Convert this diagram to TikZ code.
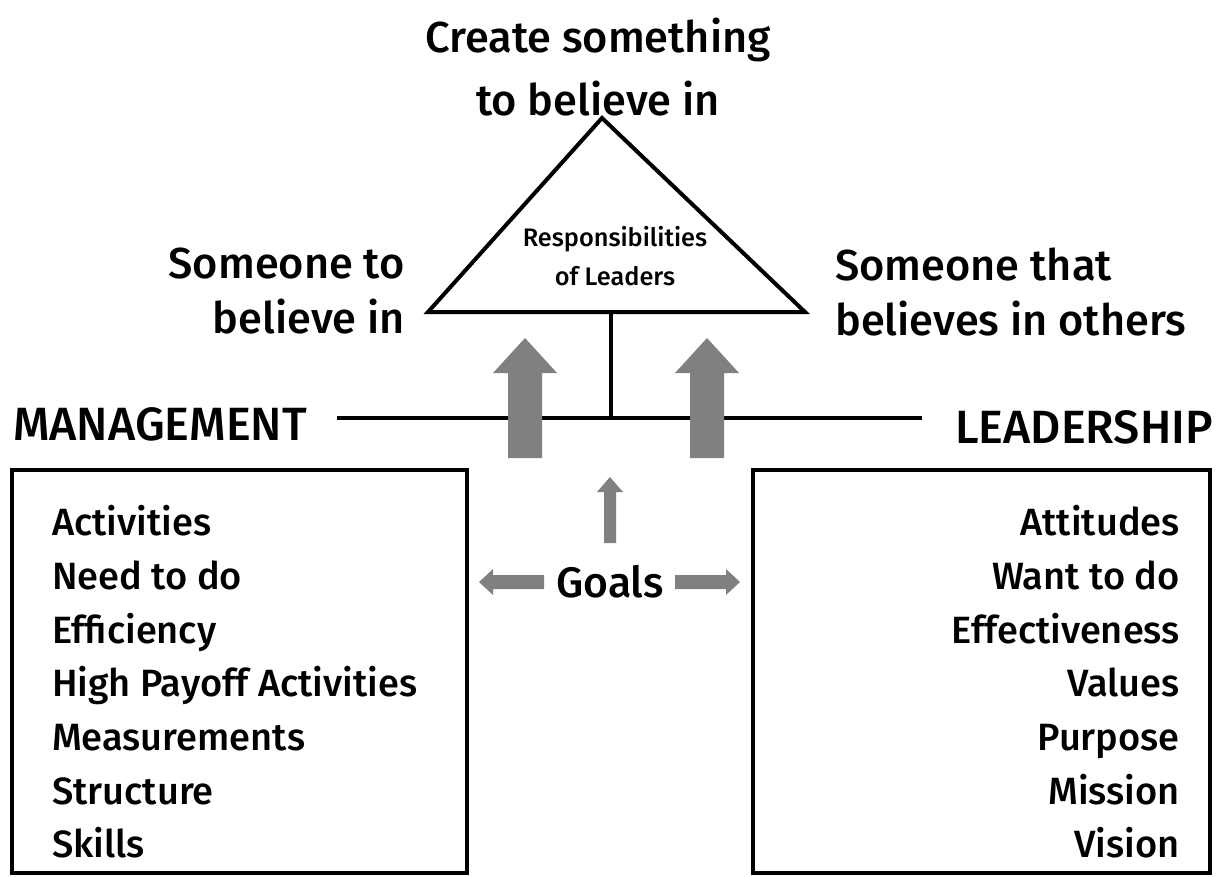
\documentclass[tikz,border=0pt]{standalone}
\usepackage{fontspec}
\setmainfont{Fira Sans}[UprightFont=* Medium, BoldFont=* SemiBold]
\definecolor{arrowgray}{RGB}{128,128,128}
\begin{document}
\begin{tikzpicture}[x=0.75pt,y=-0.75pt,
  toplabel/.style={inner sep=0pt, font=\fontsize{32.5}{47}\selectfont},
  sidelabel/.style={inner sep=0pt, font=\fontsize{32.5}{41}\selectfont},
  headlabel/.style={inner sep=0pt, font=\fontsize{35}{40}\selectfont},
  listtext/.style={inner sep=0pt, font=\fontsize{28.5}{40.3}\selectfont},
  smalllabel/.style={inner sep=0pt, font=\fontsize{19}{29}\selectfont, align=center},
  goalslabel/.style={inner sep=0pt, font=\fontsize{32}{38}\selectfont},
  thick line/.style={line width=3pt, line join=miter},
  blockarrow/.style={fill=arrowgray}
]
\useasboundingbox (0,0) rectangle (1225,876);

% triangle
\coordinate (apex) at (602,118);
\coordinate (bl) at (428,312);
\coordinate (br) at (805,312);
\coordinate (bm) at (611,312);
\draw[thick line] (apex) -- (br) -- (bl) -- cycle;
\node[smalllabel, anchor=north] (resp) at (615,226) {Responsibilities\\of Leaders};

% labels
\node[toplabel, align=center, anchor=north] (create) at (598,18) {Create something\\to believe in};
\node[sidelabel, align=right, anchor=north east] (someone) at (405,248) {Someone to\\believe in};
\node[sidelabel, align=left, anchor=north west] (someothers) at (835,248) {Someone that\\believes in others};

% management / leadership
\node[headlabel, anchor=base west] (mgmt) at (13,440) {MANAGEMENT};
\node[headlabel, anchor=base east] (lead) at (1213,443) {LEADERSHIP};
\coordinate (hl) at (337,418);
\coordinate (hr) at (922,418);
\coordinate (hm) at (611,418);
\draw[thick line] (hl) -- (hr);
\draw[thick line] (bm) -- (hm);

% big block arrows
\fill[blockarrow] (525,338) -- (557,373) -- (542,373) -- (542,458) -- (508,458) -- (508,373) -- (493,373) -- cycle;
\fill[blockarrow] (707,338) -- (739,373) -- (724,373) -- (724,458) -- (690,458) -- (690,373) -- (675,373) -- cycle;

% boxes
\coordinate (lb1) at (12,470);
\coordinate (lb2) at (467,873);
\coordinate (rb1) at (753,470);
\coordinate (rb2) at (1210,873);
\draw[thick line] (lb1) rectangle (lb2);
\draw[thick line] (rb1) rectangle (rb2);

\node[listtext, align=left, anchor=north west] (mlist) at (52,505) {Activities\\Need to do\\Efficiency\\High Payoff Activities\\Measurements\\Structure\\Skills};
\node[listtext, align=right, anchor=north east] (llist) at (1180,505) {Attitudes\\Want to do\\Effectiveness\\Values\\Purpose\\Mission\\Vision};

% goals
\node[goalslabel] (goals) at (610,582) {Goals};
\fill[blockarrow] (610,477) -- (623,492) -- (616,492) -- (616,543) -- (604,543) -- (604,492) -- (597,492) -- cycle;
\fill[blockarrow] (479,582) -- (493,569) -- (493,575) -- (544,575) -- (544,589) -- (493,589) -- (493,595) -- cycle;
\fill[blockarrow] (740,582) -- (726,569) -- (726,575) -- (675,575) -- (675,589) -- (726,589) -- (726,595) -- cycle;
\end{tikzpicture}
\end{document}
